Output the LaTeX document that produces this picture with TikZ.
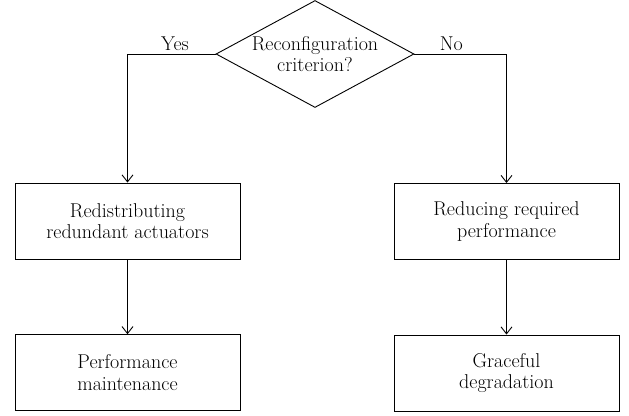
\documentclass[tikz,border=0pt]{standalone}
\usetikzlibrary{shapes.geometric,arrows.meta}
\tikzset{
  box/.style={draw, line width=0.9pt, minimum width=225pt, minimum height=76pt, align=center},
  flow/.style={line width=0.9pt, -{Straight Barb[length=7pt,width=11pt]}}
}
\begin{document}
\begin{tikzpicture}[x=1pt, y=-1pt, font=\fontsize{20}{21.7}\selectfont]
    \useasboundingbox (0,0) rectangle (629,415);
    \node[draw, diamond, line width=0.9pt, align=center, shape aspect=1.85,
          minimum width=198pt, minimum height=107pt, inner xsep=-12pt, inner ysep=-4pt]
          (crit) at (315,54) {Reconfiguration\\criterion?};
    \node[box] (redist) at (127.5,221) {Redistributing\\redundant actuators};
    \node[box] (reduce) at (506.5,221.5) {Reducing required\\performance};
    \node[box] (maint) at (127.5,372.7) {Performance\\maintenance};
    \node[box] (grace) at (506.5,373) {Graceful\\degradation};
    \draw[flow] (crit.west) -| node[pos=0.23, above]{Yes} (redist.north);
    \draw[flow] (crit.east) -| node[pos=0.2, above]{No} (reduce.north);
    \draw[flow] (redist) -- (maint);
    \draw[flow] (reduce) -- (grace);
\end{tikzpicture}
\end{document}
